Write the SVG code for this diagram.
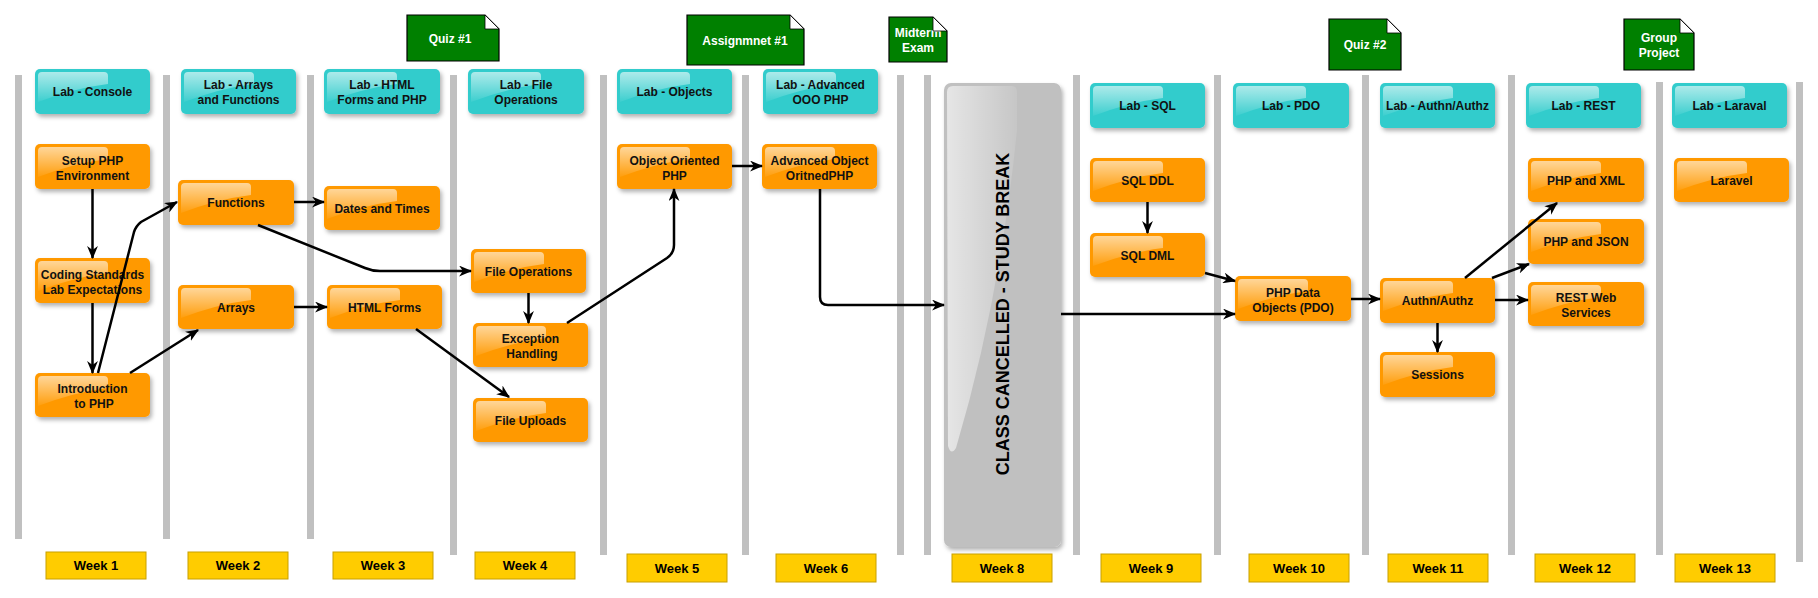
<svg xmlns="http://www.w3.org/2000/svg" xmlns:xlink="http://www.w3.org/1999/xlink" width="1818" height="598" viewBox="0 0 1818 598">
<style>
.lane{fill:#C0C0C0}
.lab{fill:#33CCCC}
.topic{fill:#FF9900}
.box{filter:url(#sh)}
.t{font-family:"Liberation Sans",Arial,sans-serif;font-weight:bold;font-size:12px;fill:#111;text-anchor:middle}
.nt{font-family:"Liberation Sans",Arial,sans-serif;font-weight:bold;font-size:12px;fill:#fff;text-anchor:middle}
.wk{fill:#FFCC00;stroke:#C8A000;stroke-width:1}
.wt{font-family:"Liberation Sans",Arial,sans-serif;font-weight:bold;font-size:13px;fill:#000;text-anchor:middle}
.note{fill:#008000;stroke:#000;stroke-width:1.2}
.fold{fill:#fff;stroke:#000;stroke-width:0.8}
.c{fill:none;stroke:#000;stroke-width:2.5;marker-end:url(#ar)}
.gl{fill:url(#gg)}
</style>
<defs>
<filter id="sh" x="-10%" y="-10%" width="130%" height="140%">
<feDropShadow dx="2" dy="3" stdDeviation="2" flood-color="#000" flood-opacity="0.3"/>
</filter>
<linearGradient id="gg" x1="0" y1="0" x2="0" y2="1">
<stop offset="0" stop-color="#fff" stop-opacity="0.6"/>
<stop offset="1" stop-color="#fff" stop-opacity="0.05"/>
</linearGradient>
<linearGradient id="cg" x1="0" y1="0" x2="1" y2="0">
<stop offset="0" stop-color="#fff" stop-opacity="0.6"/>
<stop offset="1" stop-color="#fff" stop-opacity="0.1"/>
</linearGradient>
<path id="gloss" d="M3,7 Q3,3 7,3 L69,3 Q73,3 73,7 L73,15 Q40,19 3,33 Z"/>
<marker id="ar" viewBox="0 0 12 10" refX="11" refY="5" markerWidth="13" markerHeight="11" markerUnits="userSpaceOnUse" orient="auto">
<path d="M0,0 L12,5 L0,10 L3.5,5 Z" fill="#000"/>
</marker>
</defs>
<rect width="1818" height="598" fill="#fff"/>

<g id="lanes">
<rect class="lane" x="15" y="75" width="7" height="464"/>
<rect class="lane" x="163" y="75" width="7" height="464"/>
<rect class="lane" x="307" y="75" width="7" height="464"/>
<rect class="lane" x="450" y="75" width="7" height="480"/>
<rect class="lane" x="600" y="75" width="7" height="480"/>
<rect class="lane" x="742" y="75" width="7" height="480"/>
<rect class="lane" x="897" y="75" width="7" height="480"/>
<rect class="lane" x="924" y="75" width="7" height="480"/>
<rect class="lane" x="1073" y="75" width="7" height="480"/>
<rect class="lane" x="1214" y="75" width="7" height="480"/>
<rect class="lane" x="1362" y="75" width="7" height="480"/>
<rect class="lane" x="1508" y="75" width="7" height="480"/>
<rect class="lane" x="1656" y="82" width="7" height="473"/>
<rect class="lane" x="1796" y="82" width="7" height="480"/>
</g>

<g id="notes">
<g id="quiz1">
<path class="note" d="M407,15 H485 L499,29 V61 H407 Z"/>
<text class="nt" x="450" y="42.5">Quiz #1</text>
<path class="fold" d="M485,15 L499,29 H485 Z"/>
</g>
<g id="assign1">
<path class="note" d="M687,15 H790 L804,29 V65 H687 Z"/>
<text class="nt" x="745" y="44.5">Assignmnet #1</text>
<path class="fold" d="M790,15 L804,29 H790 Z"/>
</g>
<g id="midterm">
<path class="note" d="M889,17 H933 L947,31 V62 H889 Z"/>
<text class="nt" x="918" y="37">Midterm</text>
<text class="nt" x="918" y="52">Exam</text>
<path class="fold" d="M933,17 L947,31 H933 Z"/>
</g>
<g id="quiz2">
<path class="note" d="M1329,19 H1387 L1401,33 V70 H1329 Z"/>
<text class="nt" x="1365" y="49">Quiz #2</text>
<path class="fold" d="M1387,19 L1401,33 H1387 Z"/>
</g>
<g id="groupproj">
<path class="note" d="M1624,19 H1680 L1694,33 V70 H1624 Z"/>
<text class="nt" x="1659" y="42">Group</text>
<text class="nt" x="1659" y="57">Project</text>
<path class="fold" d="M1680,19 L1694,33 H1680 Z"/>
</g>
</g>

<g id="cancelled">
<rect class="box" x="944" y="83" width="117" height="464" rx="7" fill="#C0C0C0"/>
<path d="M947,92 Q947,86 953,86 L1012,86 Q1017,86 1017,92 L1017,130 Q1000,300 956,448 Q951,456 948,446 Z" fill="url(#cg)"/>
<text x="0" y="0" transform="translate(1009,314) rotate(-90)" font-family="'Liberation Sans',Arial,sans-serif" font-weight="bold" font-size="18" fill="#000" text-anchor="middle">CLASS CANCELLED - STUDY BREAK</text>
</g>

<g id="lab-console"><rect class="lab box" x="35" y="69" width="115" height="45" rx="5"/><use href="#gloss" x="35" y="69" class="gl"/><text class="t" x="92.5" y="96">Lab - Console</text></g>
<g id="lab-arrays"><rect class="lab box" x="181" y="69" width="115" height="45" rx="5"/><use href="#gloss" x="181" y="69" class="gl"/><text class="t" x="238.5" y="89">Lab - Arrays</text><text class="t" x="238.5" y="104">and Functions</text></g>
<g id="lab-html"><rect class="lab box" x="324" y="69" width="116" height="45" rx="5"/><use href="#gloss" x="324" y="69" class="gl"/><text class="t" x="382" y="89">Lab - HTML</text><text class="t" x="382" y="104">Forms and PHP</text></g>
<g id="lab-file"><rect class="lab box" x="468" y="69" width="116" height="45" rx="5"/><use href="#gloss" x="468" y="69" class="gl"/><text class="t" x="526" y="89">Lab - File</text><text class="t" x="526" y="104">Operations</text></g>
<g id="lab-objects"><rect class="lab box" x="617" y="69" width="115" height="45" rx="5"/><use href="#gloss" x="617" y="69" class="gl"/><text class="t" x="674.5" y="96">Lab - Objects</text></g>
<g id="lab-advanced"><rect class="lab box" x="763" y="69" width="115" height="45" rx="5"/><use href="#gloss" x="763" y="69" class="gl"/><text class="t" x="820.5" y="89">Lab - Advanced</text><text class="t" x="820.5" y="104">OOO PHP</text></g>
<g id="lab-sql"><rect class="lab box" x="1090" y="83" width="115" height="45" rx="5"/><use href="#gloss" x="1090" y="83" class="gl"/><text class="t" x="1147.5" y="110">Lab - SQL</text></g>
<g id="lab-pdo"><rect class="lab box" x="1233" y="83" width="116" height="45" rx="5"/><use href="#gloss" x="1233" y="83" class="gl"/><text class="t" x="1291" y="110">Lab - PDO</text></g>
<g id="lab-authn"><rect class="lab box" x="1380" y="83" width="115" height="45" rx="5"/><use href="#gloss" x="1380" y="83" class="gl"/><text class="t" x="1437.5" y="110">Lab - Authn/Authz</text></g>
<g id="lab-rest"><rect class="lab box" x="1526" y="83" width="115" height="45" rx="5"/><use href="#gloss" x="1526" y="83" class="gl"/><text class="t" x="1583.5" y="110">Lab - REST</text></g>
<g id="lab-laravel"><rect class="lab box" x="1672" y="83" width="115" height="45" rx="5"/><use href="#gloss" x="1672" y="83" class="gl"/><text class="t" x="1729.5" y="110">Lab - Laraval</text></g>

<g id="setup"><rect class="topic box" x="35" y="144" width="115" height="45" rx="5"/><use href="#gloss" x="35" y="144" class="gl"/><text class="t" x="92.5" y="164.5">Setup PHP</text><text class="t" x="92.5" y="179.5">Environment</text></g>
<g id="coding"><rect class="topic box" x="35" y="258" width="115" height="45" rx="5"/><use href="#gloss" x="35" y="258" class="gl"/><text class="t" x="92.5" y="278.5">Coding Standards</text><text class="t" x="92.5" y="293.5">Lab Expectations</text></g>
<g id="intro"><rect class="topic box" x="35" y="373" width="115" height="44" rx="5"/><use href="#gloss" x="35" y="373" class="gl"/><text class="t" x="92.5" y="393">Introduction</text><text class="t" x="94" y="408">to PHP</text></g>
<g id="functions"><rect class="topic box" x="178" y="180" width="116" height="45" rx="5"/><use href="#gloss" x="178" y="180" class="gl"/><text class="t" x="236" y="207">Functions</text></g>
<g id="arrays"><rect class="topic box" x="178" y="285" width="116" height="44" rx="5"/><use href="#gloss" x="178" y="285" class="gl"/><text class="t" x="236" y="311.5">Arrays</text></g>
<g id="dates"><rect class="topic box" x="324" y="186" width="116" height="44" rx="5"/><use href="#gloss" x="324" y="186" class="gl"/><text class="t" x="382" y="212.5">Dates and Times</text></g>
<g id="htmlforms"><rect class="topic box" x="327" y="285" width="115" height="44" rx="5"/><use href="#gloss" x="327" y="285" class="gl"/><text class="t" x="384.5" y="311.5">HTML Forms</text></g>
<g id="fileops"><rect class="topic box" x="471" y="249" width="115" height="44" rx="5"/><use href="#gloss" x="471" y="249" class="gl"/><text class="t" x="528.5" y="275.5">File Operations</text></g>
<g id="exception"><rect class="topic box" x="473" y="323" width="115" height="44" rx="5"/><use href="#gloss" x="473" y="323" class="gl"/><text class="t" x="530.5" y="343">Exception</text><text class="t" x="532" y="358">Handling</text></g>
<g id="uploads"><rect class="topic box" x="473" y="398" width="115" height="44" rx="5"/><use href="#gloss" x="473" y="398" class="gl"/><text class="t" x="530.5" y="424.5">File Uploads</text></g>
<g id="oophp"><rect class="topic box" x="617" y="144" width="115" height="45" rx="5"/><use href="#gloss" x="617" y="144" class="gl"/><text class="t" x="674.5" y="164.5">Object Oriented</text><text class="t" x="674.5" y="179.5">PHP</text></g>
<g id="advobj"><rect class="topic box" x="762" y="144" width="115" height="45" rx="5"/><use href="#gloss" x="762" y="144" class="gl"/><text class="t" x="819.5" y="164.5">Advanced Object</text><text class="t" x="819.5" y="179.5">OritnedPHP</text></g>
<g id="sqlddl"><rect class="topic box" x="1090" y="158" width="115" height="44" rx="5"/><use href="#gloss" x="1090" y="158" class="gl"/><text class="t" x="1147.5" y="184.5">SQL DDL</text></g>
<g id="sqldml"><rect class="topic box" x="1090" y="233" width="115" height="44" rx="5"/><use href="#gloss" x="1090" y="233" class="gl"/><text class="t" x="1147.5" y="259.5">SQL DML</text></g>
<g id="pdo"><rect class="topic box" x="1235" y="276" width="116" height="45" rx="5"/><use href="#gloss" x="1235" y="276" class="gl"/><text class="t" x="1293" y="296.5">PHP Data</text><text class="t" x="1293" y="311.5">Objects (PDO)</text></g>
<g id="authn"><rect class="topic box" x="1380" y="278" width="115" height="45" rx="5"/><use href="#gloss" x="1380" y="278" class="gl"/><text class="t" x="1437.5" y="305">Authn/Authz</text></g>
<g id="sessions"><rect class="topic box" x="1380" y="352" width="115" height="45" rx="5"/><use href="#gloss" x="1380" y="352" class="gl"/><text class="t" x="1437.5" y="379">Sessions</text></g>
<g id="xml"><rect class="topic box" x="1528" y="158" width="116" height="44" rx="5"/><use href="#gloss" x="1528" y="158" class="gl"/><text class="t" x="1586" y="184.5">PHP and XML</text></g>
<g id="json"><rect class="topic box" x="1528" y="219" width="116" height="45" rx="5"/><use href="#gloss" x="1528" y="219" class="gl"/><text class="t" x="1586" y="246">PHP and JSON</text></g>
<g id="restweb"><rect class="topic box" x="1528" y="282" width="116" height="44" rx="5"/><use href="#gloss" x="1528" y="282" class="gl"/><text class="t" x="1586" y="301.5">REST Web</text><text class="t" x="1586" y="316.5">Services</text></g>
<g id="laravel"><rect class="topic box" x="1674" y="158" width="115" height="44" rx="5"/><use href="#gloss" x="1674" y="158" class="gl"/><text class="t" x="1731.5" y="184.5">Laravel</text></g>

<g id="weeks">
<g id="week1"><rect class="wk" x="46" y="552" width="100" height="27"/><text class="wt" x="96" y="570">Week 1</text></g>
<g id="week2"><rect class="wk" x="188" y="552" width="100" height="27"/><text class="wt" x="238" y="570">Week 2</text></g>
<g id="week3"><rect class="wk" x="333" y="552" width="100" height="27"/><text class="wt" x="383" y="570">Week 3</text></g>
<g id="week4"><rect class="wk" x="475" y="552" width="100" height="27"/><text class="wt" x="525" y="570">Week 4</text></g>
<g id="week5"><rect class="wk" x="627" y="554" width="100" height="28"/><text class="wt" x="677" y="572.5">Week 5</text></g>
<g id="week6"><rect class="wk" x="776" y="554" width="100" height="28"/><text class="wt" x="826" y="572.5">Week 6</text></g>
<g id="week8"><rect class="wk" x="952" y="554" width="100" height="28"/><text class="wt" x="1002" y="572.5">Week 8</text></g>
<g id="week9"><rect class="wk" x="1101" y="554" width="100" height="28"/><text class="wt" x="1151" y="572.5">Week 9</text></g>
<g id="week10"><rect class="wk" x="1249" y="554" width="100" height="28"/><text class="wt" x="1299" y="572.5">Week 10</text></g>
<g id="week11"><rect class="wk" x="1388" y="554" width="100" height="28"/><text class="wt" x="1438" y="572.5">Week 11</text></g>
<g id="week12"><rect class="wk" x="1535" y="554" width="100" height="28"/><text class="wt" x="1585" y="572.5">Week 12</text></g>
<g id="week13"><rect class="wk" x="1675" y="554" width="100" height="28"/><text class="wt" x="1725" y="572.5">Week 13</text></g>
</g>

<g id="connectors">
<path class="c" d="M92.5,189 L92.5,258"/>
<path class="c" d="M92.5,303 L92.5,373"/>
<path class="c" d="M98,373 L134,232 Q136,226 141,222 L177,202"/>
<path class="c" d="M130,373 L198,330"/>
<path class="c" d="M294,202 L324,202"/>
<path class="c" d="M294,307 L327,307"/>
<path class="c" d="M258,225 L365,268 Q372,271 380,271 L471,271"/>
<path class="c" d="M528.5,293 L528.5,323"/>
<path class="c" d="M416,329 L509,397"/>
<path class="c" d="M567,323 L667,258 Q674,253 674,245 L674,189"/>
<path class="c" d="M732,166 L762,166"/>
<path class="c" d="M820,189 L820,297 Q820,305 828,305 L944,305"/>
<path class="c" d="M1061,314 L1235,314"/>
<path class="c" d="M1147.5,202 L1147.5,233"/>
<path class="c" d="M1205,273 L1235,281"/>
<path class="c" d="M1351,299 L1380,299"/>
<path class="c" d="M1495,300 L1528,300"/>
<path class="c" d="M1437.5,323 L1437.5,352"/>
<path class="c" d="M1465,278 L1557,203"/>
<path class="c" d="M1492,278 L1529,264"/>
</g>
</svg>
